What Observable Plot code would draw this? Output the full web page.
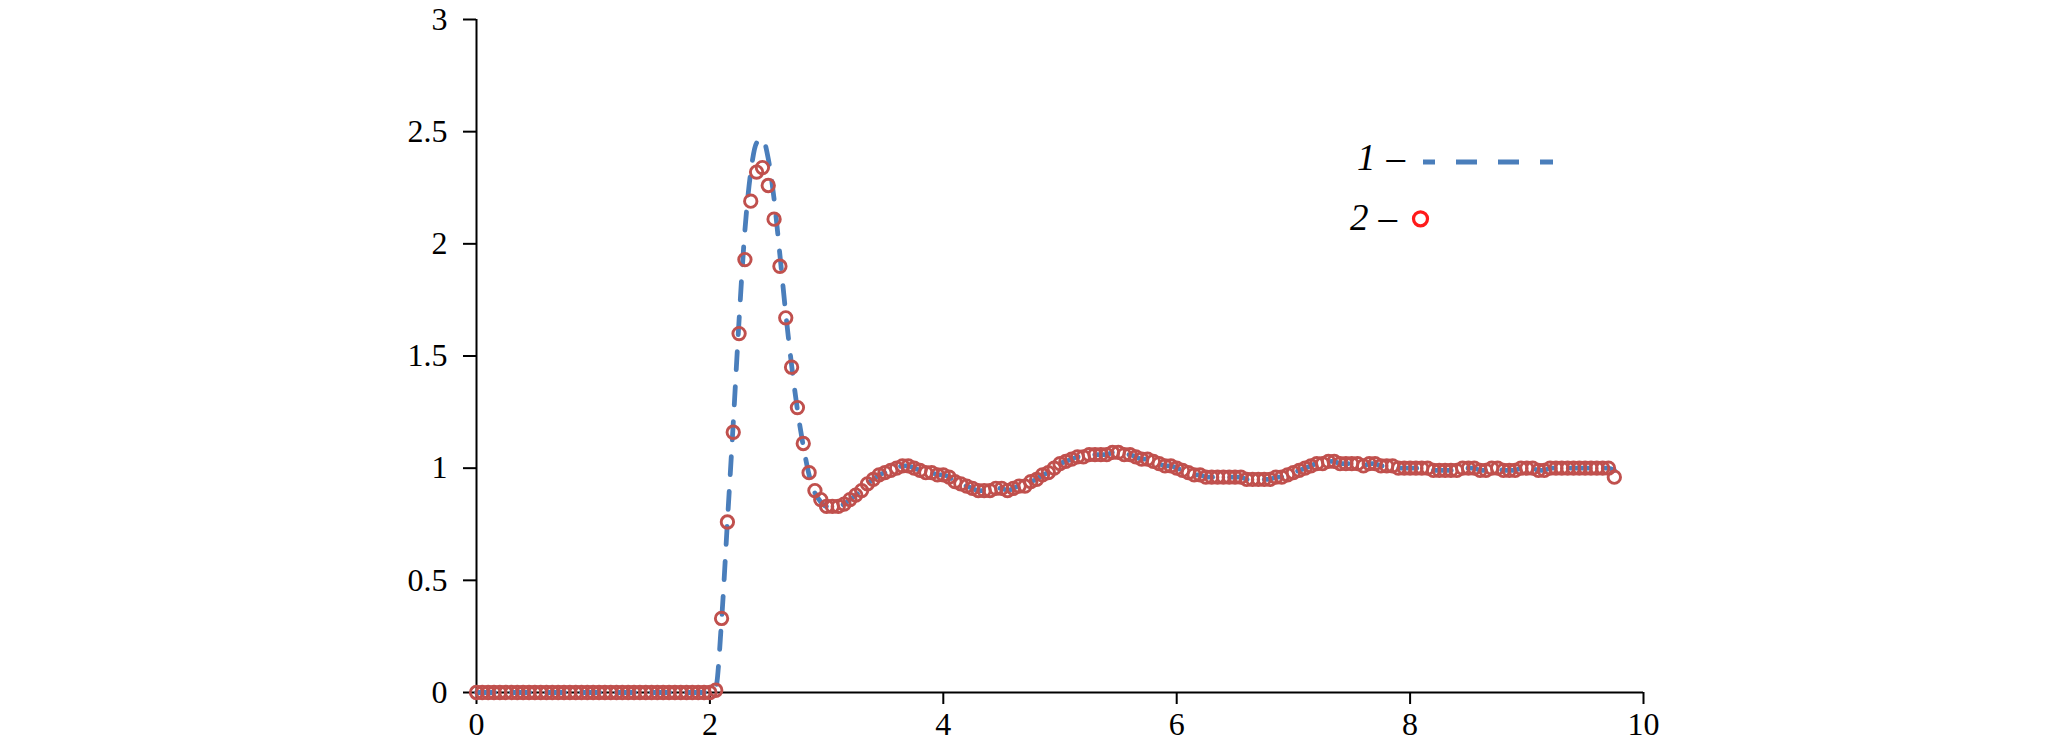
<!DOCTYPE html>
<html>
<head>
<meta charset="utf-8">
<script src="https://cdn.jsdelivr.net/npm/d3@7"></script>
<script src="https://cdn.jsdelivr.net/npm/@observablehq/plot@0.6"></script>
<style>
  html, body { margin: 0; padding: 0; background: #fff; }
  #chart svg { display: block; }
  #chart svg text { font-family: "Liberation Serif", "Times New Roman", Tinos, serif !important; }
</style>
</head>
<body>
<div id="chart"></div>
<script>
// Sample positions (x)
const xValues = [
  0,0.05,0.1,0.15,0.2,0.25,0.3,0.35,0.4,0.45,0.5,0.55,0.6,0.65,0.7,0.75,0.8,0.85,0.9,0.95,
  1,1.05,1.1,1.15,1.2,1.25,1.3,1.35,1.4,1.45,1.5,1.55,1.6,1.65,1.7,1.75,1.8,1.85,1.9,1.95,
  2,2.05,2.1,2.15,2.2,2.25,2.3,2.35,2.4,2.45,2.5,2.55,2.6,2.65,2.7,2.75,2.8,2.85,2.9,2.95,
  3,3.05,3.1,3.15,3.2,3.25,3.3,3.35,3.4,3.45,3.5,3.55,3.6,3.65,3.7,3.75,3.8,3.85,3.9,3.95,
  4,4.05,4.1,4.15,4.2,4.25,4.3,4.35,4.4,4.45,4.5,4.55,4.6,4.65,4.7,4.75,4.8,4.85,4.9,4.95,
  5,5.05,5.1,5.15,5.2,5.25,5.3,5.35,5.4,5.45,5.5,5.55,5.6,5.65,5.7,5.75,5.8,5.85,5.9,5.95,
  6,6.05,6.1,6.15,6.2,6.25,6.3,6.35,6.4,6.45,6.5,6.55,6.6,6.65,6.7,6.75,6.8,6.85,6.9,6.95,
  7,7.05,7.1,7.15,7.2,7.25,7.3,7.35,7.4,7.45,7.5,7.55,7.6,7.65,7.7,7.75,7.8,7.85,7.9,7.95,
  8,8.05,8.1,8.15,8.2,8.25,8.3,8.35,8.4,8.45,8.5,8.55,8.6,8.65,8.7,8.75,8.8,8.85,8.9,8.95,
  9,9.05,9.1,9.15,9.2,9.25,9.3,9.35,9.4,9.45,9.5,9.55,9.6,9.65,9.7,9.75
];

// Series 1 – dashed line
const series1 = [
  0,0,0,0,0,0,0,0,0,0,0,0,0,0,0,0,0,0,0,0,
  0,0,0,0,0,0,0,0,0,0,0,0,0,0,0,0,0,0,0,0,
  0,0.02,0.32,0.76,1.20,1.66,2.06,2.32,2.45,2.47,2.38,2.20,1.95,1.69,1.46,1.26,1.10,0.97,0.89,0.85,
  0.83,0.83,0.83,0.84,0.86,0.88,0.90,0.93,0.95,0.97,0.98,0.99,1.00,1.01,1.01,1.00,0.99,0.98,0.98,0.97,
  0.97,0.96,0.94,0.93,0.92,0.91,0.90,0.90,0.90,0.91,0.91,0.90,0.91,0.92,0.92,0.94,0.95,0.97,0.98,1.00,
  1.02,1.03,1.04,1.05,1.05,1.06,1.06,1.06,1.06,1.07,1.07,1.06,1.06,1.05,1.04,1.04,1.03,1.02,1.01,1.01,
  1.00,0.99,0.98,0.97,0.97,0.96,0.96,0.96,0.96,0.96,0.96,0.96,0.95,0.95,0.95,0.95,0.95,0.96,0.96,0.97,
  0.98,0.99,1.00,1.01,1.02,1.02,1.03,1.03,1.02,1.02,1.02,1.02,1.01,1.02,1.02,1.01,1.01,1.01,1.00,1.00,
  1.00,1.00,1.00,1.00,0.99,0.99,0.99,0.99,0.99,1.00,1.00,1.00,0.99,0.99,1.00,1.00,0.99,0.99,0.99,1.00,
  1.00,1.00,0.99,0.99,1.00,1.00,1.00,1.00,1.00,1.00,1.00,1.00,1.00,1.00,1.00,0.99
];

// Series 2 – open circles
const series2 = [
  0,0,0,0,0,0,0,0,0,0,0,0,0,0,0,0,0,0,0,0,
  0,0,0,0,0,0,0,0,0,0,0,0,0,0,0,0,0,0,0,0,
  0,0.01,0.33,0.76,1.16,1.60,1.93,2.19,2.32,2.34,2.26,2.11,1.90,1.67,1.45,1.27,1.11,0.98,0.90,0.86,
  0.83,0.83,0.83,0.84,0.86,0.88,0.90,0.93,0.95,0.97,0.98,0.99,1.00,1.01,1.01,1.00,0.99,0.98,0.98,0.97,
  0.97,0.96,0.94,0.93,0.92,0.91,0.90,0.90,0.90,0.91,0.91,0.90,0.91,0.92,0.92,0.94,0.95,0.97,0.98,1.00,
  1.02,1.03,1.04,1.05,1.05,1.06,1.06,1.06,1.06,1.07,1.07,1.06,1.06,1.05,1.04,1.04,1.03,1.02,1.01,1.01,
  1.00,0.99,0.98,0.97,0.97,0.96,0.96,0.96,0.96,0.96,0.96,0.96,0.95,0.95,0.95,0.95,0.95,0.96,0.96,0.97,
  0.98,0.99,1.00,1.01,1.02,1.02,1.03,1.03,1.02,1.02,1.02,1.02,1.01,1.02,1.02,1.01,1.01,1.01,1.00,1.00,
  1.00,1.00,1.00,1.00,0.99,0.99,0.99,0.99,0.99,1.00,1.00,1.00,0.99,0.99,1.00,1.00,0.99,0.99,0.99,1.00,
  1.00,1.00,0.99,0.99,1.00,1.00,1.00,1.00,1.00,1.00,1.00,1.00,1.00,1.00,1.00,0.96
];

const xTicks = [0, 2, 4, 6, 8, 10];
const yTicks = [0, 0.5, 1, 1.5, 2, 2.5, 3];
const legendLabels = ["1", "2"];

const lineData = xValues.map((x, i) => ({x, y: series1[i]}));
const dotData = xValues.map((x, i) => ({x, y: series2[i]}));

const FONT = "Liberation Serif, Times New Roman, Tinos, serif";

const plot = Plot.plot({
  width: 2067,
  height: 743,
  marginLeft: 476,
  marginRight: 424,
  marginTop: 19,
  marginBottom: 51,
  x: {domain: [0, 10]},
  y: {domain: [0, 3]},
  style: {fontFamily: FONT, fontSize: "32px", color: "#000", background: "#fff", overflow: "visible"},
  marks: [
    Plot.ruleY([0], {stroke: "#000", strokeWidth: 2}),
    Plot.ruleX([0], {stroke: "#000", strokeWidth: 2}),
    Plot.axisX({ticks: xTicks, tickSize: 12, tickPadding: 8, strokeWidth: 2, tickFormat: d => String(d), label: null, fontSize: 32, fontFamily: FONT}),
    Plot.axisY({ticks: yTicks, tickSize: 13, tickPadding: 16, strokeWidth: 2, tickFormat: d => String(d), label: null, fontSize: 32, fontFamily: FONT}),
    Plot.line(lineData, {x: "x", y: "y", stroke: "#4a7ebb", strokeWidth: 4.8, strokeDasharray: "18,17", strokeLinecap: "round", curve: "monotone-x"}),
    Plot.dot(dotData, {x: "x", y: "y", r: 6.2, stroke: "#c0504d", strokeWidth: 2.9, fill: "none"})
  ]
});

document.getElementById("chart").appendChild(plot);

// Legend
const svg = d3.select(plot);
const lg = svg.append("g")
  .attr("font-family", FONT)
  .attr("font-size", 37)
  .attr("fill", "#000")
  .attr("text-anchor", "start");

const t1 = lg.append("text").attr("x", 1357).attr("y", 170);
t1.append("tspan").attr("font-style", "italic").text(legendLabels[0]);
t1.append("tspan").attr("dx", 11).text("\u2013");
lg.append("line")
  .attr("x1", 1423).attr("x2", 1553).attr("y1", 162).attr("y2", 162)
  .attr("stroke", "#4a7ebb").attr("stroke-width", 5)
  .attr("stroke-dasharray", "21,21").attr("stroke-dashoffset", 9);

const t2 = lg.append("text").attr("x", 1350).attr("y", 230);
t2.append("tspan").attr("font-style", "italic").text(legendLabels[1]);
t2.append("tspan").attr("dx", 10).text("\u2013");
lg.append("circle")
  .attr("cx", 1420.5).attr("cy", 218.8).attr("r", 7)
  .attr("fill", "none").attr("stroke", "#ff1a1a").attr("stroke-width", 3.2);
</script>
</body>
</html>
